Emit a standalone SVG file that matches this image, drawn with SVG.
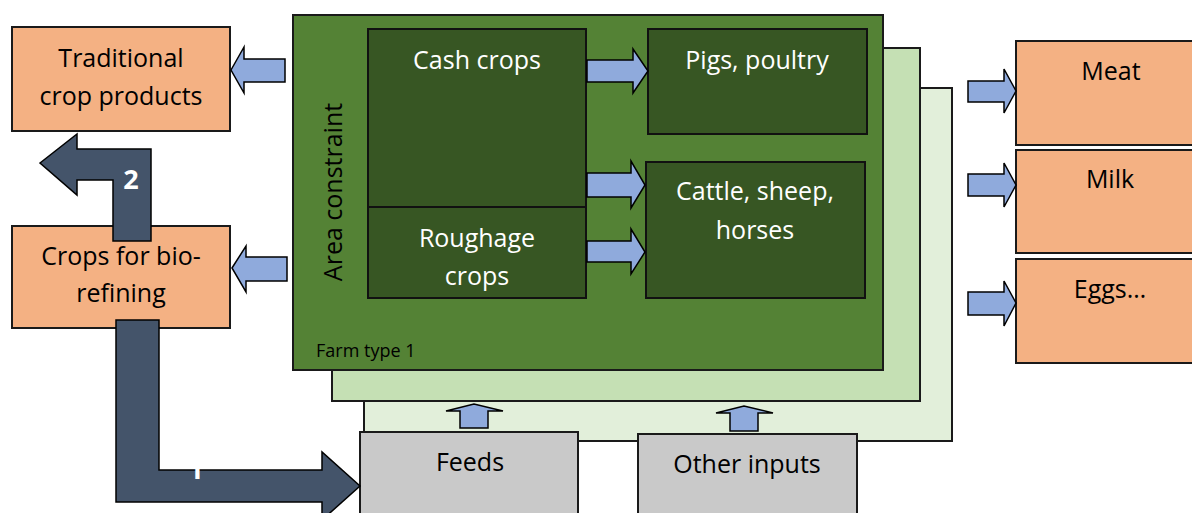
<svg xmlns="http://www.w3.org/2000/svg" width="1192" height="513" viewBox="0 0 1192 513">
<style>
  text { font-family: "Open Sans", "Liberation Sans", sans-serif; }
  .lbl { font-size: 25px; fill: #000; text-anchor: middle; }
  .wlbl { font-size: 25px; fill: #fff; text-anchor: middle; }
  .orange { fill: #F4B183; stroke: #1a1a1a; stroke-width: 2; }
  .grey { fill: #C9C9C9; stroke: #1a1a1a; stroke-width: 2; }
  .inner { fill: #375623; stroke: #111; stroke-width: 2; }
  .barrow { fill: #8FAADC; stroke: #000; stroke-width: 1.5; stroke-linejoin: miter; }
  .darrow { fill: #44546A; stroke: #000; stroke-width: 1.5; }
  .num { font-size: 27px; font-weight: bold; fill: #fff; text-anchor: middle; }
</style>
<rect width="1192" height="513" fill="#fff"/>

<g id="farm-type-3">
  <rect x="364" y="88" width="588" height="353" fill="#E2EFDA" stroke="#1a1a1a" stroke-width="2"/>
</g>
<g id="farm-type-2">
  <rect x="332" y="48" width="588" height="353" fill="#C5E0B4" stroke="#1a1a1a" stroke-width="2"/>
</g>
<g id="farm-type-1">
  <rect x="293" y="15" width="590" height="355" fill="#548235" stroke="#1a1a1a" stroke-width="2"/>
  <text x="316" y="357" style="font-size:18px;fill:#000">Farm type 1</text>
  <text transform="translate(342,192) rotate(-90)" class="lbl">Area constraint</text>
</g>
<g id="cash-crops">
  <rect class="inner" x="368" y="29" width="218" height="178"/>
  <text class="wlbl" x="477" y="69">Cash crops</text>
</g>
<g id="roughage-crops">
  <rect class="inner" x="368" y="207" width="218" height="91"/>
  <text class="wlbl" x="477" y="247">Roughage</text>
  <text class="wlbl" x="477" y="285">crops</text>
</g>
<g id="pigs-poultry">
  <rect class="inner" x="648" y="29" width="219" height="105"/>
  <text class="wlbl" x="757" y="69">Pigs, poultry</text>
</g>
<g id="cattle">
  <rect class="inner" x="646" y="162" width="219" height="136"/>
  <text class="wlbl" x="755" y="200">Cattle, sheep,</text>
  <text class="wlbl" x="755" y="239">horses</text>
</g>

<g id="traditional-crop-products">
  <rect class="orange" x="12" y="27" width="218" height="104"/>
  <text class="lbl" x="121" y="67">Traditional</text>
  <text class="lbl" x="121" y="105">crop products</text>
</g>
<g id="crops-for-biorefining">
  <rect class="orange" x="12" y="226" width="218" height="102"/>
  <text class="lbl" x="121" y="265">Crops for bio-</text>
  <text class="lbl" x="121" y="302">refining</text>
</g>
<g id="meat">
  <rect class="orange" x="1016" y="41" width="180" height="104"/>
  <text class="lbl" x="1111" y="80">Meat</text>
</g>
<g id="milk">
  <rect class="orange" x="1016" y="150" width="180" height="103"/>
  <text class="lbl" x="1110" y="188">Milk</text>
</g>
<g id="eggs">
  <rect class="orange" x="1016" y="259" width="180" height="104"/>
  <text class="lbl" x="1110" y="298">Eggs…</text>
</g>
<g id="feeds">
  <rect class="grey" x="360" y="432" width="218" height="90"/>
  <text class="lbl" x="470" y="471">Feeds</text>
</g>
<g id="other-inputs">
  <rect class="grey" x="638" y="434" width="219" height="90"/>
  <text class="lbl" x="747" y="473">Other inputs</text>
</g>

<g id="connectors">
  <!-- left outputs -->
  <polygon class="barrow" points="231,70 244,47 244,59 285,59 285,82 244,82 244,93"/>
  <polygon class="barrow" points="232,268 246,246 246,257 287,257 287,281 246,281 246,292"/>
  <!-- inner arrows -->
  <polygon class="barrow" points="587,60 633,60 633,49 648,71 633,93 633,82 587,82"/>
  <polygon class="barrow" points="587,173 631,173 631,161 645,185 631,208 631,197 587,197"/>
  <polygon class="barrow" points="587,241 631,241 631,229 645,252 631,274 631,262 587,262"/>
  <!-- right outputs -->
  <polygon class="barrow" points="968,81 1004,81 1004,69 1016,91 1004,113 1004,102 968,102"/>
  <polygon class="barrow" points="968,174 1004,174 1004,163 1016,185 1004,207 1004,196 968,196"/>
  <polygon class="barrow" points="968,292 1004,292 1004,281 1016,303 1004,326 1004,315 968,315"/>
  <!-- up arrows -->
  <polygon class="barrow" points="460,428 460,411 446,411 474,404 503,411 488,411 488,428"/>
  <polygon class="barrow" points="730,431 730,413 716,413 744,406 773,413 758,413 758,431"/>
  <!-- dark arrow 2 -->
  <polygon class="darrow" points="40,163 77,134 77,149 151,149 151,241 113,241 113,180 77,180 77,195"/>
  <text class="num" x="131" y="189">2</text>
  <!-- dark arrow 1 -->
  <polygon class="darrow" points="116,320 159,320 159,470 322,470 322,452 360,486 322,520 322,502 116,502"/>
  <text class="num" x="196" y="479">1</text>
</g>
</svg>
